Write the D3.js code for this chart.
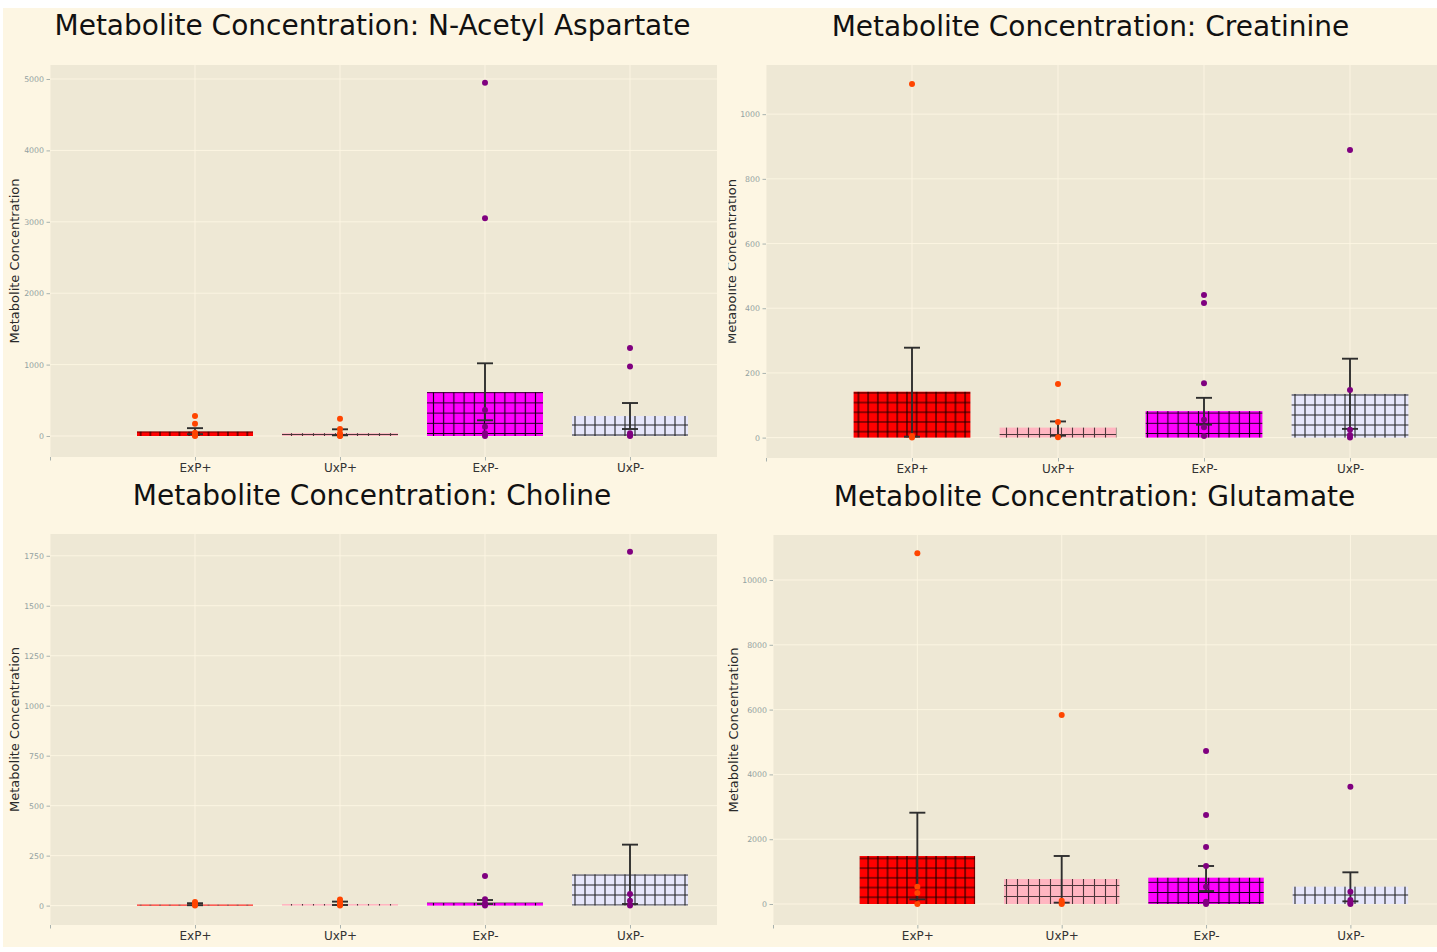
<!DOCTYPE html>
<html>
<head>
<meta charset="utf-8">
<script src="https://cdn.jsdelivr.net/npm/d3@7"></script>
<style>
  html, body { margin: 0; padding: 0; background: #ffffff; }
  svg { display: block; font-family: "DejaVu Sans", sans-serif; }
</style>
</head>
<body>
<div id="chart"></div>
<script>
// Groups shown on every panel
const categories = ["ExP+", "UxP+", "ExP-", "UxP-"];
const metabolites = ["N-Acetyl Aspartate", "Creatinine", "Choline", "Glutamate"];

// N-Acetyl Aspartate: group means, confidence interval bounds, individual samples
const naaMean = [65, 40, 616, 280];
const naaLow = [25, 10, 220, 98];
const naaHigh = [110, 94, 1018, 462];
const naaPoints = [
  [280, 172, 45, 10, 0],
  [242, 98, 40, 5, 0],
  [4946, 3050, 364, 130, 40, 0],
  [1232, 975, 40, 10, 0]
];
const naaTicks = [0, 1000, 2000, 3000, 4000, 5000];

// Creatinine
const creMean = [142, 31, 82, 135];
const creLow = [3, 6, 40, 27];
const creHigh = [278, 50, 123, 244];
const crePoints = [
  [1093, 5, 0],
  [166, 48, 1],
  [441, 416, 168, 55, 32, 5],
  [889, 147, 24, 8, 0]
];
const creTicks = [0, 200, 400, 600, 800, 1000];

// Choline
const choMean = [5, 8, 15, 157];
const choLow = [2, 3, 8, 8];
const choHigh = [12, 20, 28, 305];
const choPoints = [
  [18, 10, 5, 0],
  [30, 17, 5, 0],
  [148, 32, 12, 0],
  [1770, 58, 24, 0]
];
const choTicks = [0, 250, 500, 750, 1000, 1250, 1500, 1750];

// Glutamate
const gluMean = [1481, 772, 813, 535];
const gluLow = [144, 41, 401, 82];
const gluHigh = [2818, 1482, 1173, 978];
const gluPoints = [
  [10824, 535, 340, 0],
  [5833, 100, 30, 0],
  [4722, 2747, 1759, 1173, 535, 72, 0],
  [3621, 381, 123, 40, 0]
];
const gluTicks = [0, 2000, 4000, 6000, 8000, 10000];

// Styling per group
const barColors = ["#ff0000", "#ffb6c1", "#ff00ff", "#e6e6fa"];
const dotColors = ["#ff4500", "#ff4500", "#800080", "#800080"];
const hatchStep = [9.7, 11, 10.2, 10];
const hatchOpacity = [0.9, 0.7, 0.9, 0.85];

const W = 1437, H = 952;

const panels = [
  { name: metabolites[0], mean: naaMean, low: naaLow, high: naaHigh, pts: naaPoints, ticks: naaTicks,
    ylim: [-294, 5196], left: 50, right: 717, top: 65, bottom: 457, titleX: 372.5, titleY: 35, labelX: 18.5 },
  { name: metabolites[1], mean: creMean, low: creLow, high: creHigh, pts: crePoints, ticks: creTicks,
    ylim: [-63, 1152], left: 766, right: 1437.6, top: 65, bottom: 458, titleX: 1090.5, titleY: 36, labelX: 736, clipX: 728.5 },
  { name: metabolites[2], mean: choMean, low: choLow, high: choHigh, pts: choPoints, ticks: choTicks,
    ylim: [-97, 1859], left: 50, right: 717, top: 534, bottom: 925, titleX: 372, titleY: 505, labelX: 18.5 },
  { name: metabolites[3], mean: gluMean, low: gluLow, high: gluHigh, pts: gluPoints, ticks: gluTicks,
    ylim: [-648, 11389], left: 773, right: 1437, top: 535, bottom: 925, titleX: 1094.5, titleY: 506, labelX: 738 }
];

const svg = d3.select("#chart").append("svg")
  .attr("width", W).attr("height", H);

const defs = svg.append("defs");

// Cross-hatch fills, one per group
categories.forEach((c, i) => {
  const s = hatchStep[i];
  const p = defs.append("pattern")
    .attr("id", "hatch" + i)
    .attr("patternUnits", "userSpaceOnUse")
    .attr("width", s).attr("height", s);
  p.append("rect").attr("width", s).attr("height", s).attr("fill", barColors[i]);
  p.append("path")
    .attr("d", `M${s / 2},0V${s}M0,${s / 2}H${s}`)
    .attr("stroke", "#000")
    .attr("stroke-opacity", hatchOpacity[i])
    .attr("stroke-width", 1.1)
    .attr("fill", "none");
});

// Figure background
svg.append("rect").attr("x", 3).attr("y", 8).attr("width", W - 3).attr("height", 939)
  .attr("fill", "#fdf6e3");

panels.forEach((P, pi) => {
  const g = svg.append("g");
  const x = d3.scaleLinear().domain([-1, 3.6]).range([P.left, P.right]);
  const y = d3.scaleLinear().domain(P.ylim).range([P.bottom, P.top]);

  // plot area
  g.append("rect")
    .attr("x", P.left).attr("y", P.top)
    .attr("width", P.right - P.left).attr("height", P.bottom - P.top)
    .attr("fill", "#eee8d5");

  // grid lines
  g.append("g").selectAll("line").data(P.ticks).join("line")
    .attr("x1", P.left).attr("x2", P.right)
    .attr("y1", d => y(d)).attr("y2", d => y(d))
    .attr("stroke", "#fdf6e3").attr("stroke-width", 0.9);
  g.append("g").selectAll("line").data([-1, 0, 1, 2, 3]).join("line")
    .attr("x1", d => x(d)).attr("x2", d => x(d))
    .attr("y1", P.top).attr("y2", P.bottom)
    .attr("stroke", "#fdf6e3").attr("stroke-width", 0.9);

  // bars
  g.append("g").selectAll("rect").data(P.mean).join("rect")
    .attr("x", (d, i) => x(i - 0.4))
    .attr("width", (d, i) => x(i + 0.4) - x(i - 0.4))
    .attr("y", d => y(d))
    .attr("height", d => y(0) - y(d))
    .attr("fill", (d, i) => `url(#hatch${i})`);

  // confidence interval whiskers
  const eb = g.append("g").attr("stroke", "#2e2e2e").attr("stroke-width", 1.9);
  P.mean.forEach((m, i) => {
    const cx = x(i);
    eb.append("line").attr("x1", cx).attr("x2", cx).attr("y1", y(P.low[i])).attr("y2", y(P.high[i]));
    [P.low[i], P.high[i]].forEach(v => {
      eb.append("line").attr("x1", cx - 8).attr("x2", cx + 8).attr("y1", y(v)).attr("y2", y(v));
    });
  });

  // individual samples
  P.pts.forEach((vals, i) => {
    g.append("g").selectAll("circle").data(vals).join("circle")
      .attr("cx", x(i)).attr("cy", d => y(d)).attr("r", 3)
      .attr("fill", dotColors[i]);
  });

  // y axis
  const ya = g.append("g").attr("transform", `translate(${P.left},0)`)
    .call(d3.axisLeft(y).tickValues(P.ticks).tickSize(3.5).tickPadding(2.5).tickFormat(d3.format("d")));
  ya.select(".domain").remove();
  ya.selectAll(".tick line").attr("stroke", "#93a1a1").attr("stroke-width", 0.8);
  ya.selectAll(".tick text").attr("fill", "#93a1a1")
    .style("font-family", "DejaVu Sans").style("font-size", "7.8px");

  // x axis
  const xa = g.append("g").attr("transform", `translate(0,${P.bottom})`)
    .call(d3.axisBottom(x).tickValues([-1, 0, 1, 2, 3])
      .tickFormat(i => i < 0 ? "" : categories[i]).tickSize(3.5).tickPadding(2.5));
  xa.select(".domain").remove();
  xa.selectAll(".tick line").attr("stroke", "#93a1a1").attr("stroke-width", 0.8);
  xa.selectAll(".tick text").attr("fill", "#333333")
    .style("font-family", "DejaVu Sans").style("font-size", "12px");

  // title
  g.append("text")
    .attr("x", P.titleX).attr("y", P.titleY)
    .attr("text-anchor", "middle")
    .style("font-size", "28px").attr("fill", "#111111")
    .text("Metabolite Concentration: " + P.name);

  // y label (optionally trimmed on its left side)
  const labHolder = g.append("g");
  if (P.clipX !== undefined) {
    defs.append("clipPath").attr("id", "labclip" + pi)
      .append("rect").attr("x", P.clipX).attr("y", 0).attr("width", 100).attr("height", H);
    labHolder.attr("clip-path", `url(#labclip${pi})`);
  }
  labHolder.append("text")
    .attr("transform", `translate(${P.labelX},${(P.top + P.bottom) / 2}) rotate(-90)`)
    .attr("text-anchor", "middle")
    .style("font-size", "13px").attr("fill", "#2a2a2a")
    .text("Metabolite Concentration");
});
</script>
</body>
</html>
